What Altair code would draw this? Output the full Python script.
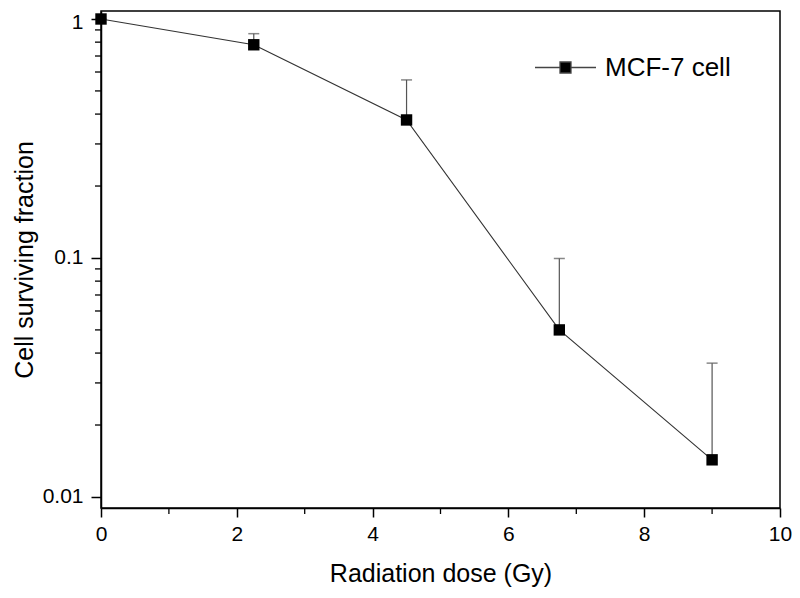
import altair as alt
import pandas as pd

dose = [0, 2.25, 4.5, 6.75, 9]
surv = [1.0, 0.78, 0.378, 0.050, 0.0143]
err_top = [1.0, 0.868, 0.556, 0.0995, 0.0363]
series = ["MCF-7 cell"] * 5

y_minor = [0.02, 0.03, 0.04, 0.05, 0.06, 0.07, 0.08, 0.09,
           0.2, 0.3, 0.4, 0.5, 0.6, 0.7, 0.8, 0.9]
x_minor = [1, 3, 5, 7, 9]

df = pd.DataFrame({"dose": dose, "surv": surv, "top": err_top, "series": series})
dym = pd.DataFrame({"v": y_minor})
dxm = pd.DataFrame({"v": x_minor})

FONT = "Liberation Sans"
W, H = 679, 497

xs = alt.Scale(domain=[0, 10], nice=False, zero=False)
ys = alt.Scale(type="log", domain=[0.00899, 1.08], nice=False)

xenc = alt.X("dose:Q", scale=xs,
             axis=alt.Axis(values=[0, 2, 4, 6, 8, 10], format="d", title="Radiation dose (Gy)",
                           grid=False, tickSize=9, labelPadding=6, titlePadding=17,
                           labelFlush=False))
yenc = alt.Y("surv:Q", scale=ys,
             axis=alt.Axis(values=[0.01, 0.1, 1], format="~g", title="Cell surviving fraction",
                           grid=False, tickSize=10, labelPadding=8, titlePadding=5,
                           labelFlush=False,
                           labelOffset={"condition": {"test": "datum.value == 1", "value": 4}, "value": 0}))

base = alt.Chart(df)

line = base.mark_line(color="#333333", strokeWidth=1.1).encode(x=xenc, y=yenc)

rules = base.mark_rule(color="#555555", strokeWidth=1.2).encode(
    x="dose:Q", y="surv:Q", y2="top:Q")
caps = base.mark_tick(color="#555555", thickness=1.5, size=11, orient="horizontal").encode(
    x="dose:Q", y="top:Q")

pts = base.mark_point(shape="square", filled=True, size=130, opacity=1).encode(
    x="dose:Q", y="surv:Q",
    color=alt.Color("series:N", scale=alt.Scale(range=["black"]),
                    legend=alt.Legend(title=None, orient="none", legendX=433, legendY=25,
                                      symbolType="M-1,0H-0.18M0.18,0H1M-0.18,-0.18H0.18V0.18H-0.18Z",
                                      symbolSize=3721, symbolStrokeColor="#444444",
                                      symbolFillColor="black", symbolStrokeWidth=1.3,
                                      labelFontSize=26, labelFont=FONT, labelOffset=8,
                                      labelColor="black", padding=0)))

ymin = alt.Chart(dym).mark_rule(color="black", strokeWidth=1.3).encode(
    y=alt.Y("v:Q", scale=ys), x=alt.value(-6), x2=alt.value(0))
xmin = alt.Chart(dxm).mark_rule(color="black", strokeWidth=1.3).encode(
    x=alt.X("v:Q", scale=xs), y=alt.value(H), y2=alt.value(H + 6))

chart = alt.layer(line, rules, caps, pts, ymin, xmin).properties(
    width=W, height=H,
    autosize=alt.AutoSizeParams(type="none"),
    padding={"left": 93, "top": 3, "right": 12, "bottom": 82},
).configure_view(stroke="black", strokeWidth=1.5).configure_axis(
    domainColor="black", domainWidth=1.5, tickColor="black", tickWidth=1.5,
    labelFont=FONT, labelFontSize=21, labelColor="black",
    titleFont=FONT, titleFontSize=25, titleColor="black", titleFontWeight="normal"
)

chart.save("out.html", embed_options={"renderer": "svg", "actions": False})
